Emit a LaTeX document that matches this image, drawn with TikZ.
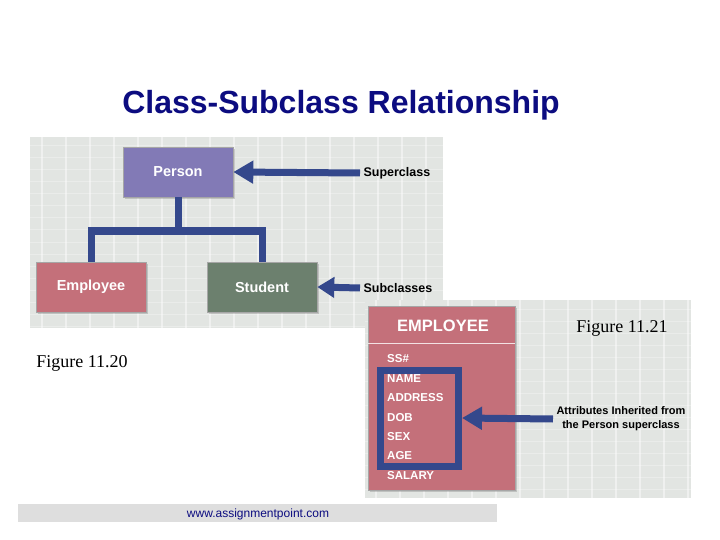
\documentclass[tikz,border=0pt]{standalone}
\usepackage{fontspec}
\setmainfont{Liberation Serif}
\setsansfont{Liberation Sans}
\usetikzlibrary{arrows.meta,shadows}
\definecolor{titleblue}{RGB}{12,12,128}
\definecolor{panelgray}{RGB}{226,229,226}
\definecolor{personcol}{RGB}{130,122,182}
\definecolor{employeecol}{RGB}{196,112,122}
\definecolor{studentcol}{RGB}{108,128,110}
\definecolor{linkblue}{RGB}{52,72,140}
\definecolor{footgray}{RGB}{222,222,222}
\tikzset{
  classbox/.style={draw=black!35, line width=0.6pt, minimum width=110pt, minimum height=50pt,
    text=white, font=\sffamily\bfseries\fontsize{14.5}{16}\selectfont,
    drop shadow={shadow xshift=2pt, shadow yshift=-2pt, opacity=0.35}},
  link/.style={draw=linkblue, line width=7pt},
  pointer/.style={draw=linkblue, line width=7pt, -{Triangle[width=22pt,length=20pt]}},
  note/.style={font=\sffamily\bfseries\fontsize{12.5}{14}\selectfont, text=black},
  attr/.style={font=\sffamily\bfseries\fontsize{11.5}{13}\selectfont, text=white, anchor=west, inner sep=0pt},
  figlabel/.style={font=\fontsize{18}{20}\selectfont}
}
\begin{document}
\begin{tikzpicture}[x=1pt,y=-1pt]
\useasboundingbox[fill=white] (0,0) rectangle (720,540);
% title
\node[font=\sffamily\bfseries\fontsize{32}{35}\selectfont, text=titleblue] (title) at (341,105) {Class-Subclass Relationship};
% figure 11.20 panel
\fill[panelgray] (30,137) rectangle (443,328);
\begin{scope}
\clip (30,137) rectangle (443,328);
\foreach \x in {42,66,...,440} \draw[white, line width=1.5pt, opacity=0.45] (\x,137) -- (\x,328);
\foreach \y in {146,158,...,328} \draw[white, line width=1pt, opacity=0.3] (30,\y) -- (443,\y);
\end{scope}
\node[classbox, fill=personcol] (person) at (178,172) {Person};
\node[classbox, fill=employeecol] (employee) at (91,287) {Employee};
\node[classbox, fill=studentcol] (student) at (262,287) {Student};
\coordinate (split) at (178,231);
\draw[link] (person.south) -- (split);
\draw[link] (employee.north) -- (employee.north |- split) -- (student.north |- split) -- (student.north);
\node[note, anchor=west] (super) at (360,173) {Superclass};
\node[note, anchor=west] (sub) at (360,288) {Subclasses};
\draw[pointer] (super.west) -- (person.east);
\draw[pointer, -{Triangle[width=20pt,length=17pt]}] (sub.west) -- (student.east);
% figure 11.21 panel
\fill[panelgray] (365,300) rectangle (691,498);
\begin{scope}
\clip (365,300) rectangle (691,498);
\foreach \x in {376,400,...,690} \draw[white, line width=1.5pt, opacity=0.45] (\x,300) -- (\x,498);
\foreach \y in {309,321,...,498} \draw[white, line width=1pt, opacity=0.3] (365,\y) -- (691,\y);
\end{scope}
\node[draw=black!35, fill=employeecol, minimum width=147pt, minimum height=184pt,
  drop shadow={shadow xshift=2pt, shadow yshift=-2pt, opacity=0.35}] (empbox) at (441.5,398) {};
\draw[white!80!employeecol, line width=1pt] (empbox.west |- 0,343) -- (empbox.east |- 0,343);
\node[font=\sffamily\bfseries\fontsize{16.5}{19}\selectfont, text=white] (emphead) at (443,326) {EMPLOYEE};
\foreach \name/\y in {SS\#/359, NAME/379, ADDRESS/398, DOB/418, SEX/437, AGE/456, SALARY/476}
  \node[attr] at (387,\y) {\name};
\node[draw=linkblue, line width=7pt, minimum width=78pt, minimum height=96pt, inner sep=0pt] (inherit) at (419.5,418) {};
\node[note, font=\sffamily\bfseries\fontsize{11}{14}\selectfont, align=center] (inhnote) at (621,419)
  {Attributes Inherited from\\the Person superclass};
\draw[pointer] (inhnote.west) -- (inherit.east);
% captions
\node[figlabel] (fig21) at (622,328) {Figure 11.21};
\node[figlabel] (fig20) at (82,363) {Figure 11.20};
% footer
\fill[footgray] (18,504) rectangle (497,522);
\node[font=\sffamily\fontsize{12}{14}\selectfont, text=titleblue] (site) at (258,514) {www.assignmentpoint.com};
\end{tikzpicture}
\end{document}
